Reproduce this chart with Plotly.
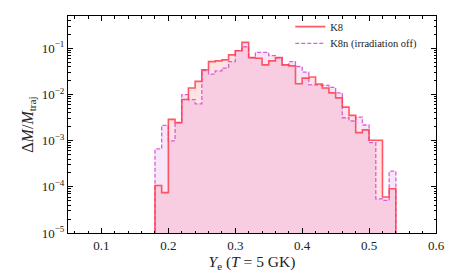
import plotly.graph_objects as go

# Bin left edges (width 0.01) in Y_e
bin_left = [0.18, 0.19, 0.20, 0.21, 0.22, 0.23, 0.24, 0.25, 0.26, 0.27, 0.28, 0.29,
            0.30, 0.31, 0.32, 0.33, 0.34, 0.35, 0.36, 0.37, 0.38, 0.39, 0.40, 0.41,
            0.42, 0.43, 0.44, 0.45, 0.46, 0.47, 0.48, 0.49, 0.50, 0.51, 0.52, 0.53]
bin_width = 0.01

k8 = [1.07e-4, 7.5e-5, 2.89e-3, 2.45e-3, 7.76e-3, 1.38e-2, 1.92e-2, 3.42e-2, 5.15e-2, 5.33e-2,
      5.6e-2, 7.18e-2, 8.87e-2, 0.134, 6.28e-2, 6.08e-2, 4.37e-2, 5.33e-2, 6.28e-2, 4.37e-2,
      4.16e-2, 1.71e-2, 2.26e-2, 2.38e-2, 1.68e-2, 1.38e-2, 1.08e-2, 8.43e-3, 5.31e-3, 3.52e-3,
      1.49e-3, 1.71e-3, 1.02e-3, 1.02e-3, 6.0e-5, 9.1e-5]

k8n = [6.6e-4, 2.15e-3, 9.9e-4, 2.45e-3, 9.93e-3, 7.76e-3, 6.27e-3, 3.3e-2, 2.76e-2, 3.25e-2,
       3.71e-2, 5.15e-2, 8.87e-2, 0.108, 6.28e-2, 8.18e-2, 8.18e-2, 6.93e-2, 6.28e-2, 4.37e-2,
       5.15e-2, 4.03e-2, 3.04e-2, 1.63e-2, 1.63e-2, 1.57e-2, 1.43e-2, 1.08e-2, 3.13e-3, 2.66e-3,
       3.24e-3, 2.18e-3, 9.1e-4, 5.5e-5, 5.1e-5, 2.18e-4]

x_ticks = [0.1, 0.2, 0.3, 0.4, 0.5, 0.6]
y_ticks = [1e-5, 1e-4, 1e-3, 1e-2, 1e-1]
y_ticktext = ["10<sup>−5</sup>", "10<sup>−4</sup>", "10<sup>−3</sup>", "10<sup>−2</sup>", "10<sup>−1</sup>"]

FLOOR = 1e-9
FONT = "Liberation Serif"


def step_path(lefts, vals, w):
    xs = [lefts[0]]
    ys = [FLOOR]
    for l, v in zip(lefts, vals):
        xs += [l, l + w]
        ys += [v, v]
    xs.append(lefts[-1] + w)
    ys.append(FLOOR)
    return xs, ys


xr, yr = step_path(bin_left, k8, bin_width)
xm, ym = step_path(bin_left, k8n, bin_width)

red_line = "rgba(255,60,75,0.85)"
mag_line = "rgba(215,80,215,0.9)"

fig = go.Figure()
fig.add_trace(go.Scatter(x=xr, y=yr, mode="lines", fill="toself",
                         fillcolor="rgba(255,60,75,0.15)", line=dict(width=0),
                         showlegend=False, hoverinfo="skip"))
fig.add_trace(go.Scatter(x=xm, y=ym, mode="lines", fill="toself",
                         fillcolor="rgba(210,80,210,0.15)", line=dict(width=0),
                         showlegend=False, hoverinfo="skip"))
fig.add_trace(go.Scatter(x=xm, y=ym, mode="lines", name="K8n (irradiation off)",
                         line=dict(color=mag_line, width=1.3, dash="4px,2px"),
                         legend="legend2"))
fig.add_trace(go.Scatter(x=xr, y=yr, mode="lines", name="K8",
                         line=dict(color=red_line, width=1.6), legend="legend"))

axis_common = dict(
    showgrid=False, zeroline=False, showline=True, linecolor="black", linewidth=1,
    mirror="allticks", ticks="inside", tickcolor="black", ticklen=5, tickwidth=1,
    tickfont=dict(family=FONT, size=13, color="#222"),
)

fig.update_xaxes(
    range=[0.05, 0.6], tickvals=x_ticks, ticktext=[f"{t:.1f}" for t in x_ticks],
    minor=dict(ticks="inside", ticklen=2.5, tickcolor="black", dtick=0.02, tick0=0.0),
    title=dict(text="<i>Y</i><sub>e</sub> (<i>T</i> = 5 GK)",
               font=dict(family=FONT, size=15.5, color="#222"), standoff=1),
    **axis_common,
)
fig.update_yaxes(
    type="log", range=[-5, -0.301], tickvals=y_ticks, ticktext=y_ticktext,
    minor=dict(ticks="inside", ticklen=2.5, tickcolor="black", dtick="D1"),
    title=dict(text="Δ<i>M</i>/<i>M</i><sub>traj</sub>",
               font=dict(family=FONT, size=16, color="#222"), standoff=4),
    **axis_common,
)

leg_common = dict(xanchor="left", yanchor="top", bgcolor="rgba(0,0,0,0)",
                  font=dict(family=FONT, size=10.5, color="#222"), itemwidth=30)

fig.update_layout(
    width=458, height=275,
    margin=dict(l=68, r=22, t=14, b=42),
    plot_bgcolor="white", paper_bgcolor="white",
    legend=dict(x=0.604, y=1.018, **leg_common),
    legend2=dict(x=0.604, y=0.941, **leg_common),
)

fig.write_html("out.html", config={"displayModeBar": False},
               post_script="document.body.style.margin='0px';")
